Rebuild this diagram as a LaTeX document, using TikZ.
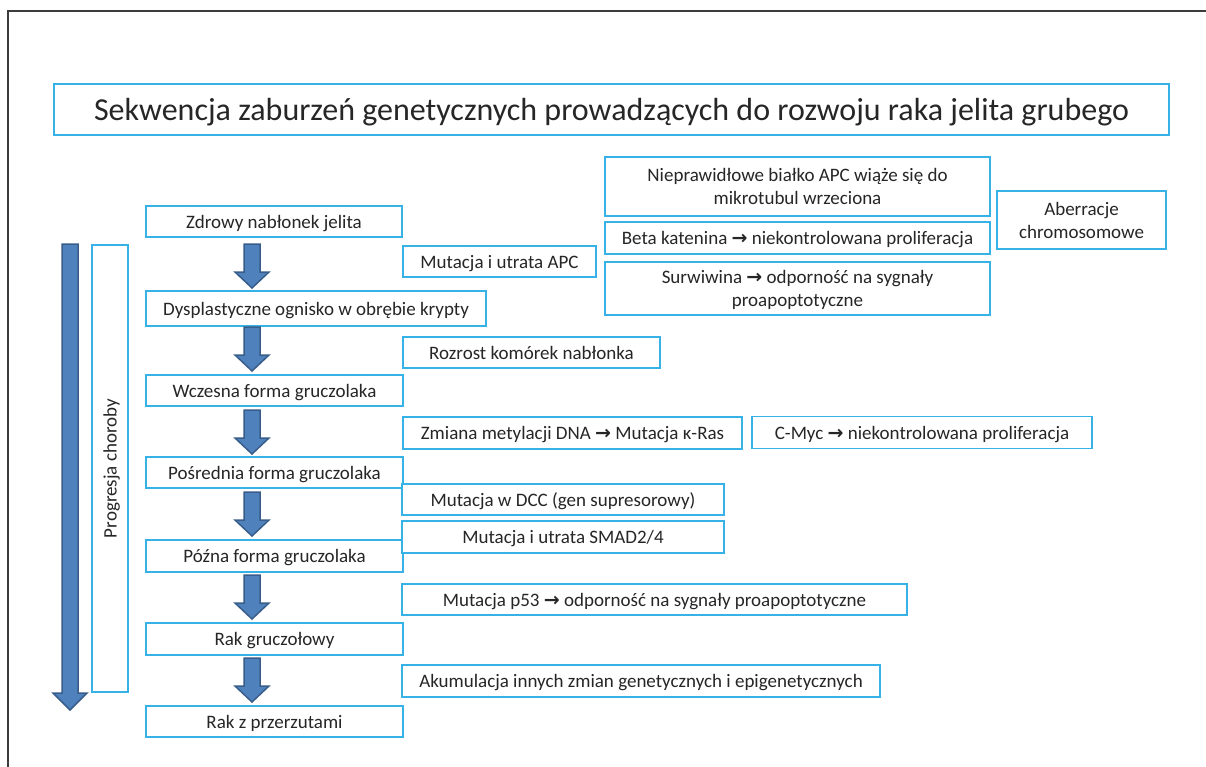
\documentclass[tikz,border=0pt]{standalone}
\usepackage{fontspec}
\setmainfont{Carlito}
\newfontfamily\arrfont{DejaVu Sans}
\usetikzlibrary{calc}
\definecolor{bbl}{RGB}{55,178,230}
\definecolor{afill}{RGB}{79,129,189}
\definecolor{aedge}{RGB}{56,93,138}
\definecolor{txt}{RGB}{38,38,38}
\definecolor{frm}{RGB}{60,60,60}
\newcommand{\rarr}{{\arrfont\bfseries →}}
\newcommand{\sarr}[1]{\draw[barrow] (244,#1) -- (260,#1) -- (260,{#1+28}) -- (269,{#1+28}) -- (252,{#1+44}) -- (235,{#1+28}) -- (244,{#1+28}) -- cycle;}
\begin{document}
\begin{tikzpicture}[x=1pt,y=-1pt,
  every node/.style={text=txt, font=\fontsize{19}{23}\selectfont},
  box/.style={draw=bbl, line width=1.2pt, fill=white, inner sep=0pt, align=center, text depth=0pt},
  barrow/.style={fill=afill, draw=aedge, line width=1.5pt, line join=miter}]
\useasboundingbox (0,0) rectangle (1206,767);
\fill[white] (0,0) rectangle (1206,767);
\draw[frm, line width=1.3pt] (8,767) -- (8,11) -- (1206,11);

% title
\node[box, minimum width=1115, minimum height=51, font=\fontsize{32}{38}\selectfont] (title) at (611.5,109.5) {Sekwencja zaburzeń genetycznych prowadzących do rozwoju raka jelita grubego};

% left column
\node[box, minimum width=256, minimum height=31] (zdrowy) at (274,221.5) {Zdrowy nabłonek jelita};
\node[box, minimum width=340, minimum height=35] (dysp) at (316,308.5) {Dysplastyczne ognisko w obrębie krypty};
\node[box, minimum width=257, minimum height=31] (wczesna) at (274.5,390.5) {Wczesna forma gruczolaka};
\node[box, minimum width=257, minimum height=31] (posred) at (274.5,472.5) {Pośrednia forma gruczolaka};
\node[box, minimum width=257, minimum height=32] (pozna) at (274.5,556) {Późna forma gruczolaka};
\node[box, minimum width=257, minimum height=32] (rakg) at (274.5,639) {Rak gruczołowy};
\node[box, minimum width=257, minimum height=31] (rakp) at (274.5,721.5) {Rak z przerzutami};

% progression
\draw[barrow] (62,244) -- (78,244) -- (78,693) -- (87,693) -- (70,710) -- (53,693) -- (62,693) -- cycle;
\node[box, rotate=90, minimum width=447, minimum height=36] (prog) at (110,468.5) {Progresja choroby};

% step arrows
\sarr{244}
\sarr{327}
\sarr{410}
\sarr{492}
\sarr{575}
\sarr{658}

% right side
\node[box, minimum width=385, minimum height=59] (niepr) at (797.5,186.5) {Nieprawidłowe białko APC wiąże się do\\mikrotubul wrzeciona};
\node[box, minimum width=169, minimum height=58] (aber) at (1081.5,220) {Aberracje\\chromosomowe};
\node[box, minimum width=385, minimum height=32] (beta) at (797.5,238) {Beta katenina \rarr{} niekontrolowana proliferacja};
\node[box, minimum width=385, minimum height=53] (surw) at (797.5,288.5) {Surwiwina \rarr{} odporność na sygnały\\proapoptotyczne};
\node[box, minimum width=193, minimum height=31] (apc) at (499.5,261.5) {Mutacja i utrata APC};
\node[box, minimum width=257, minimum height=31] (rozrost) at (531.5,352.5) {Rozrost komórek nabłonka};
\node[box, minimum width=339, minimum height=32] (zmiana) at (572.5,433) {Zmiana metylacji DNA \rarr{} Mutacja κ-Ras};
\node[box, minimum width=340, minimum height=32] (cmyc) at (922,432.5) {C-Myc \rarr{} niekontrolowana proliferacja};
\node[box, minimum width=322, minimum height=31] (dcc) at (563,499.5) {Mutacja w DCC (gen supresorowy)};
\node[box, minimum width=322, minimum height=32] (smad) at (563,537) {Mutacja i utrata SMAD2/4};
\node[box, minimum width=505, minimum height=31] (p53) at (654.5,599.5) {Mutacja p53 \rarr{} odporność na sygnały proapoptotyczne};
\node[box, minimum width=478, minimum height=32] (akum) at (641,681) {Akumulacja innych zmian genetycznych i epigenetycznych};
\end{tikzpicture}
\end{document}
